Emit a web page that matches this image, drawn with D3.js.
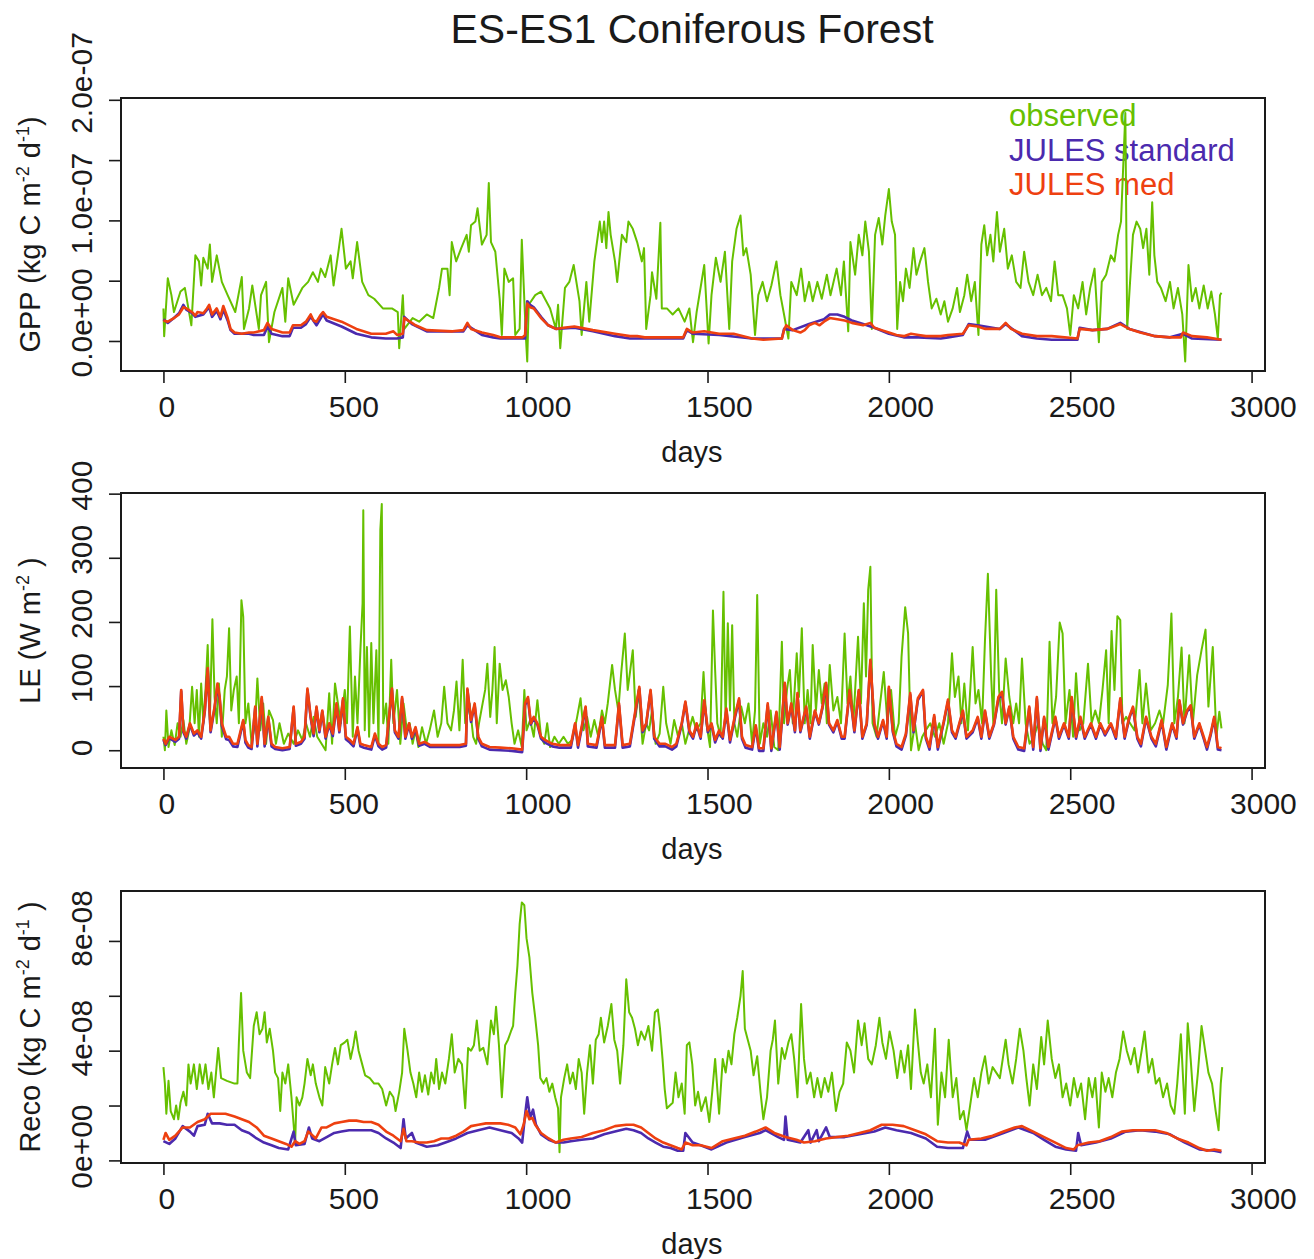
<!DOCTYPE html>
<html>
<head>
<meta charset="utf-8">
<script src="https://cdn.jsdelivr.net/npm/d3@7"></script>
<style>
  body { margin: 0; background: #fff; }
  svg text { font-family: "Liberation Sans", Arial, Helvetica, sans-serif; fill: #1a1a1a; }
</style>
</head>
<body>
<svg id="chart" width="1314" height="1259"></svg>
<script>
"use strict";

var chartTitle = "ES-ES1 Coniferous Forest";
var seriesNames = ["observed", "JULES standard", "JULES med"];
var seriesColors = ["#66c000", "#4b2aae", "#ee4010"];
var dayTicks = [0, 500, 1000, 1500, 2000, 2500, 3000];

// GPP in units of 1e-8 kg C m-2 d-1, as [day, value]
var gppObserved = [[0,2.7],[2,0.4],[12,5.2],[22,3.8],[29,2.4],[47,4.1],[59,4.4],[77,1.3],[88,7.1],[98,6.6],[104,4.6],[110,6.9],[122,6.0],[128,8.0],[134,4.9],[147,7.1],[161,4.9],[177,3.8],[198,2.4],[216,5.3],[222,1.0],[236,2.7],[245,4.6],[263,1.0],[269,3.8],[283,4.9],[291,-0.1],[306,2.4],[328,4.4],[336,1.6],[344,5.2],[359,3.0],[383,4.4],[399,4.9],[412,5.7],[426,4.9],[434,6.0],[446,5.3],[461,7.1],[469,4.6],[481,7.1],[491,9.3],[503,6.0],[516,6.6],[522,5.2],[534,8.2],[548,4.9],[565,3.8],[581,3.5],[605,2.7],[630,2.7],[646,2.4],[650,-0.6],[660,3.8],[664,1.0],[687,1.9],[705,1.6],[726,2.2],[744,1.9],[760,4.4],[768,6.0],[783,6.0],[789,3.8],[795,8.2],[807,6.6],[821,7.7],[836,8.8],[842,7.4],[848,9.6],[860,9.9],[866,11.0],[878,8.0],[891,8.8],[897,13.1],[903,8.2],[915,7.4],[927,3.5],[933,0.5],[940,6.0],[952,4.9],[964,5.2],[970,0.5],[982,1.0],[988,8.4],[999,0.5],[1003,-1.7],[1007,3.0],[1025,3.8],[1041,4.1],[1066,2.7],[1082,1.0],[1088,3.0],[1094,-0.6],[1107,4.4],[1119,4.9],[1131,6.3],[1147,3.3],[1153,0.5],[1166,4.9],[1174,1.6],[1188,6.6],[1203,9.9],[1209,8.2],[1215,9.9],[1221,7.7],[1227,10.7],[1233,8.8],[1245,6.6],[1251,4.9],[1264,8.8],[1276,8.2],[1282,9.9],[1294,9.3],[1306,8.2],[1319,6.6],[1325,7.7],[1331,1.0],[1343,3.8],[1347,5.7],[1359,3.5],[1370,9.8],[1374,2.7],[1388,2.7],[1404,2.2],[1420,2.7],[1437,1.6],[1450,2.7],[1460,-0.1],[1470,2.4],[1491,6.3],[1503,-0.2],[1511,3.8],[1523,6.9],[1536,4.9],[1548,7.4],[1560,1.0],[1568,6.6],[1580,9.3],[1591,10.4],[1599,7.1],[1607,7.7],[1619,5.5],[1631,0.5],[1640,3.8],[1652,4.9],[1664,3.3],[1676,4.6],[1690,6.6],[1701,3.8],[1711,2.2],[1723,0.2],[1731,4.9],[1746,3.8],[1758,6.0],[1768,3.3],[1780,4.9],[1790,3.3],[1803,4.9],[1815,3.5],[1829,5.5],[1839,3.8],[1856,6.0],[1868,3.8],[1876,6.6],[1888,0.8],[1894,8.2],[1907,5.5],[1917,8.8],[1927,7.1],[1935,9.9],[1945,7.4],[1953,1.0],[1962,8.8],[1972,10.2],[1982,8.0],[1990,10.4],[2000,12.6],[2008,9.9],[2017,8.8],[2023,1.0],[2031,4.9],[2039,3.3],[2047,6.0],[2057,4.4],[2068,7.7],[2076,5.5],[2086,6.6],[2098,7.7],[2108,4.9],[2118,2.7],[2131,3.5],[2143,2.2],[2153,3.3],[2163,1.6],[2176,2.7],[2188,4.4],[2196,2.4],[2208,3.8],[2216,5.5],[2227,3.3],[2237,4.9],[2247,0.5],[2255,8.0],[2263,9.6],[2271,7.1],[2280,8.8],[2288,6.6],[2298,10.7],[2306,7.4],[2318,9.3],[2328,6.0],[2339,7.1],[2351,4.9],[2363,4.4],[2373,7.4],[2385,4.9],[2398,3.8],[2410,5.5],[2422,3.8],[2434,4.4],[2447,3.3],[2457,6.6],[2467,3.8],[2479,3.8],[2491,2.7],[2500,0.5],[2510,3.8],[2522,2.7],[2534,4.9],[2544,2.2],[2555,4.4],[2567,6.0],[2579,-0.1],[2587,4.9],[2599,5.5],[2612,7.1],[2622,6.6],[2632,8.8],[2640,9.9],[2652,18.9],[2657,1.0],[2665,4.9],[2673,8.8],[2683,9.9],[2693,9.3],[2701,7.7],[2710,9.3],[2718,5.5],[2726,11.5],[2732,7.1],[2740,4.9],[2750,4.4],[2763,3.3],[2775,4.9],[2785,2.7],[2797,4.4],[2809,2.2],[2817,-1.7],[2826,6.3],[2836,3.3],[2846,4.4],[2856,2.7],[2868,4.6],[2879,2.7],[2889,4.1],[2899,2.2],[2907,0.2],[2913,3.8],[2917,4.0]];
var gppStandard = [[0,1.8],[12,1.5],[29,1.9],[43,2.3],[55,3.0],[63,2.6],[79,2.3],[88,2.0],[110,2.2],[126,2.8],[134,2.0],[147,2.5],[157,1.8],[165,2.6],[177,1.7],[185,0.9],[196,0.6],[236,0.6],[249,0.5],[277,0.5],[287,1.2],[298,0.6],[328,0.4],[348,0.4],[357,1.1],[379,1.1],[393,1.4],[406,2.0],[422,1.3],[440,2.2],[450,1.7],[491,1.2],[532,0.6],[573,0.3],[613,0.2],[644,0.2],[660,0.3],[664,2.0],[685,1.4],[726,0.8],[827,0.8],[838,1.3],[878,0.5],[909,0.3],[929,0.2],[997,0.2],[1003,3.3],[1011,3.0],[1021,2.8],[1041,2.0],[1061,1.3],[1082,1.0],[1133,1.1],[1184,0.8],[1245,0.4],[1286,0.2],[1433,0.2],[1443,0.9],[1459,0.6],[1532,0.5],[1623,0.2],[1705,0.2],[1711,1.0],[1735,0.9],[1780,1.4],[1821,1.8],[1837,2.2],[1858,2.2],[1878,2.0],[1898,1.7],[1929,1.4],[1960,1.1],[2000,0.6],[2041,0.3],[2082,0.3],[2143,0.2],[2163,0.3],[2204,0.5],[2220,1.4],[2245,1.3],[2306,1.0],[2322,1.4],[2367,0.4],[2408,0.2],[2449,0.1],[2520,0.1],[2526,1.1],[2561,0.9],[2602,1.0],[2638,1.5],[2663,1.0],[2734,0.4],[2775,0.3],[2811,0.6],[2836,0.2],[2917,0.1]];
var gppMed = [[0,1.7],[12,1.6],[29,1.9],[43,2.2],[55,2.8],[63,2.7],[79,2.4],[88,2.1],[94,2.4],[110,2.3],[120,2.7],[126,3.0],[134,2.2],[147,2.7],[157,2.0],[165,2.9],[177,1.9],[185,1.0],[196,0.7],[216,0.6],[236,0.7],[249,0.7],[277,0.9],[287,1.5],[298,1.0],[328,0.7],[348,0.7],[357,1.3],[379,1.3],[393,1.6],[406,2.2],[414,1.7],[422,1.6],[432,2.1],[440,2.4],[450,2.0],[491,1.6],[532,1.0],[573,0.6],[613,0.6],[634,0.8],[644,0.5],[660,0.6],[664,1.9],[685,1.5],[695,1.3],[726,0.9],[797,0.8],[827,0.9],[838,1.5],[848,1.0],[878,0.7],[909,0.5],[929,0.3],[990,0.3],[997,0.5],[1003,3.1],[1011,2.8],[1021,2.7],[1041,1.9],[1061,1.3],[1082,1.0],[1103,1.1],[1133,1.2],[1184,0.9],[1245,0.6],[1286,0.4],[1306,0.4],[1327,0.3],[1408,0.3],[1433,0.3],[1443,1.0],[1459,0.7],[1491,0.8],[1532,0.6],[1572,0.6],[1623,0.2],[1654,0.1],[1705,0.2],[1711,0.9],[1717,1.3],[1735,0.9],[1756,0.7],[1768,0.9],[1780,1.3],[1796,1.5],[1809,1.3],[1821,1.6],[1837,1.9],[1858,1.8],[1878,1.7],[1898,1.5],[1929,1.3],[1949,1.5],[1960,1.1],[1980,0.9],[2000,0.7],[2021,0.5],[2041,0.4],[2061,0.6],[2082,0.5],[2102,0.4],[2143,0.4],[2163,0.5],[2204,0.6],[2220,1.3],[2245,1.2],[2266,1.0],[2306,1.0],[2322,1.5],[2337,1.0],[2367,0.6],[2408,0.4],[2449,0.4],[2520,0.2],[2526,1.0],[2561,0.9],[2602,1.0],[2638,1.4],[2663,1.0],[2693,0.7],[2734,0.4],[2775,0.3],[2805,0.3],[2811,0.7],[2836,0.4],[2877,0.3],[2917,0.1]];
var gppTicks = [0, 5, 10, 15, 20];
var gppTickLabels = ["0.0e+00", "", "1.0e-07", "", "2.0e-07"];

// LE, W m-2, as [day, value]
var leObserved = [[0,21],[4,0],[8,62],[14,5],[22,31],[31,8],[39,42],[47,21],[55,47],[63,10],[71,31],[79,99],[86,42],[92,94],[98,21],[104,104],[110,42],[116,94],[122,164],[128,47],[135,204],[141,83],[147,42],[153,104],[161,21],[169,94],[175,115],[181,190],[187,62],[194,94],[202,115],[208,42],[215,234],[220,208],[226,42],[234,73],[243,10],[253,42],[259,112],[267,31],[275,73],[283,10],[291,62],[302,47],[310,10],[320,42],[332,10],[344,26],[359,10],[371,31],[383,16],[393,42],[404,21],[414,52],[424,21],[436,10],[447,0],[457,89],[465,10],[473,104],[481,73],[489,42],[500,94],[506,42],[514,193],[522,21],[528,115],[535,42],[543,156],[549,229],[551,374],[555,31],[561,161],[567,21],[573,167],[579,42],[587,156],[593,10],[598,344],[602,384],[606,42],[614,73],[620,10],[628,141],[634,42],[644,94],[653,10],[662,73],[671,31],[679,42],[687,10],[695,31],[703,5],[713,36],[724,10],[734,31],[746,62],[756,21],[766,42],[774,99],[783,42],[793,31],[801,62],[808,107],[816,31],[825,141],[832,42],[844,73],[854,21],[862,10],[870,42],[880,73],[887,94],[893,135],[901,52],[907,94],[913,161],[919,42],[927,135],[935,94],[944,109],[952,83],[960,42],[968,10],[978,31],[988,5],[995,94],[1001,31],[1011,47],[1021,21],[1031,78],[1041,21],[1050,10],[1058,42],[1066,5],[1078,21],[1090,10],[1103,21],[1115,10],[1127,16],[1139,47],[1150,81],[1158,31],[1168,52],[1178,21],[1188,47],[1199,21],[1209,62],[1217,42],[1225,73],[1237,133],[1245,94],[1254,62],[1262,120],[1272,182],[1280,94],[1287,125],[1294,156],[1302,52],[1310,94],[1321,10],[1331,42],[1339,31],[1347,62],[1357,10],[1368,26],[1378,99],[1386,42],[1398,10],[1408,47],[1419,21],[1429,42],[1439,10],[1449,31],[1459,52],[1469,31],[1481,42],[1489,122],[1497,42],[1507,5],[1515,218],[1521,125],[1527,42],[1536,21],[1544,247],[1550,42],[1556,198],[1562,62],[1568,195],[1574,42],[1582,21],[1593,68],[1603,42],[1613,73],[1623,10],[1631,62],[1637,242],[1644,10],[1654,42],[1664,21],[1674,62],[1684,5],[1695,0],[1705,169],[1711,42],[1719,94],[1727,125],[1735,42],[1746,151],[1752,83],[1760,190],[1768,42],[1776,94],[1784,42],[1790,164],[1799,62],[1807,125],[1815,73],[1823,104],[1829,42],[1837,133],[1847,62],[1858,83],[1868,42],[1878,182],[1886,73],[1894,115],[1902,42],[1915,177],[1923,73],[1931,229],[1937,115],[1943,250],[1949,286],[1955,42],[1966,21],[1976,73],[1986,122],[1996,42],[2006,94],[2017,21],[2027,42],[2035,146],[2045,223],[2053,182],[2061,0],[2072,42],[2082,0],[2092,21],[2102,31],[2114,42],[2127,21],[2139,42],[2151,10],[2163,42],[2174,151],[2182,83],[2192,115],[2200,42],[2208,104],[2218,31],[2231,161],[2239,73],[2247,94],[2257,42],[2265,172],[2273,275],[2282,115],[2288,42],[2296,250],[2304,94],[2312,42],[2322,143],[2332,83],[2343,42],[2351,73],[2359,42],[2367,143],[2377,42],[2388,10],[2400,21],[2412,42],[2424,10],[2434,0],[2443,169],[2451,42],[2461,83],[2471,199],[2479,182],[2487,42],[2498,94],[2508,21],[2516,120],[2526,31],[2536,42],[2549,135],[2559,42],[2569,62],[2579,42],[2589,94],[2599,156],[2606,42],[2614,186],[2622,94],[2630,209],[2638,203],[2644,42],[2654,52],[2665,42],[2677,31],[2691,125],[2699,42],[2709,104],[2722,31],[2734,42],[2746,62],[2756,42],[2769,102],[2779,213],[2787,42],[2797,83],[2807,160],[2815,42],[2828,148],[2838,42],[2850,117],[2862,156],[2873,188],[2881,68],[2893,161],[2903,21],[2911,60],[2917,34]];
var leStandard = [[0,16],[6,8],[16,19],[33,13],[43,18],[49,92],[55,28],[63,18],[73,40],[84,23],[94,28],[104,18],[114,60],[122,126],[130,28],[141,65],[149,100],[155,80],[161,38],[173,17],[181,16],[192,6],[204,5],[220,45],[226,12],[234,4],[243,2],[253,66],[259,6],[271,80],[279,6],[289,50],[298,6],[308,2],[328,0],[348,2],[359,66],[365,7],[379,10],[389,18],[397,94],[406,50],[414,22],[422,66],[430,28],[438,60],[447,18],[457,40],[467,22],[477,70],[485,28],[495,78],[503,17],[514,12],[524,6],[535,34],[543,6],[553,4],[573,1],[583,23],[593,6],[603,1],[614,4],[630,94],[638,28],[648,18],[658,80],[667,18],[677,40],[685,18],[695,33],[705,7],[720,10],[736,5],[756,5],[777,5],[797,5],[817,5],[834,7],[838,94],[848,44],[858,70],[868,18],[878,6],[899,1],[929,0],[960,-1],[989,-3],[997,70],[1005,80],[1013,40],[1021,50],[1031,40],[1041,18],[1052,12],[1072,6],[1092,4],[1123,4],[1135,40],[1143,4],[1164,66],[1170,6],[1194,4],[1209,50],[1217,4],[1245,4],[1256,70],[1266,4],[1286,6],[1312,96],[1321,28],[1331,40],[1343,92],[1353,18],[1368,6],[1384,6],[1402,1],[1414,6],[1429,40],[1439,74],[1450,28],[1460,18],[1470,40],[1481,18],[1491,76],[1501,28],[1511,40],[1521,12],[1532,28],[1542,18],[1552,62],[1562,12],[1576,52],[1587,78],[1595,18],[1605,4],[1623,1],[1633,36],[1642,-1],[1654,-1],[1666,70],[1676,-1],[1690,58],[1699,1],[1713,102],[1721,40],[1731,70],[1741,28],[1748,86],[1756,28],[1772,66],[1782,18],[1796,60],[1807,40],[1817,66],[1827,102],[1835,40],[1847,28],[1858,45],[1870,18],[1878,18],[1892,92],[1905,28],[1917,92],[1927,18],[1939,40],[1949,138],[1960,40],[1970,18],[1984,45],[1994,18],[2000,96],[2011,28],[2021,6],[2035,1],[2047,23],[2059,86],[2068,28],[2080,78],[2094,92],[2102,18],[2112,1],[2125,52],[2135,1],[2151,42],[2163,76],[2174,28],[2184,18],[2204,60],[2214,18],[2231,28],[2245,50],[2255,18],[2265,60],[2277,18],[2290,40],[2302,80],[2312,88],[2322,40],[2332,66],[2343,18],[2357,1],[2373,-1],[2387,66],[2398,1],[2408,80],[2418,-1],[2428,50],[2440,1],[2459,50],[2469,18],[2483,40],[2496,18],[2504,80],[2516,18],[2528,50],[2540,18],[2557,40],[2571,18],[2583,40],[2596,23],[2612,40],[2626,18],[2638,78],[2650,18],[2663,50],[2673,66],[2685,18],[2695,6],[2709,50],[2724,18],[2736,6],[2752,45],[2765,1],[2781,40],[2793,18],[2801,76],[2811,40],[2822,60],[2832,68],[2842,18],[2856,40],[2868,18],[2877,1],[2887,23],[2897,50],[2907,1],[2917,0]];
var leMed = [[0,18],[6,10],[16,21],[33,16],[43,21],[49,94],[55,31],[63,21],[73,42],[84,26],[94,31],[104,21],[114,62],[122,128],[130,31],[141,68],[149,104],[155,83],[161,42],[173,21],[181,21],[192,10],[204,10],[220,47],[226,16],[234,8],[243,5],[253,68],[259,10],[271,83],[279,10],[289,52],[298,10],[308,5],[328,3],[348,5],[359,68],[365,10],[379,13],[389,21],[397,96],[406,52],[414,26],[422,68],[430,31],[438,62],[447,21],[457,42],[467,26],[477,73],[485,31],[495,81],[503,21],[514,16],[524,10],[535,36],[543,10],[553,8],[573,5],[583,26],[593,10],[603,5],[614,8],[630,96],[638,31],[648,21],[658,83],[667,21],[677,42],[685,21],[695,36],[705,10],[720,13],[736,8],[756,8],[777,8],[797,8],[817,8],[834,10],[838,96],[848,47],[858,73],[868,21],[878,10],[899,5],[929,4],[960,3],[989,1],[997,73],[1005,83],[1013,42],[1021,52],[1031,42],[1041,21],[1052,16],[1072,10],[1092,8],[1123,8],[1135,42],[1143,8],[1164,68],[1170,10],[1194,8],[1209,52],[1217,8],[1245,8],[1256,73],[1266,8],[1286,10],[1312,99],[1321,31],[1331,42],[1343,94],[1353,21],[1368,10],[1384,10],[1402,5],[1414,10],[1429,42],[1439,76],[1450,31],[1460,21],[1470,42],[1481,21],[1491,78],[1501,31],[1511,42],[1521,16],[1532,31],[1542,21],[1552,65],[1562,16],[1576,55],[1587,81],[1595,21],[1605,8],[1623,5],[1633,39],[1642,3],[1654,3],[1666,73],[1676,3],[1690,60],[1699,5],[1713,105],[1721,42],[1731,73],[1741,31],[1748,89],[1756,31],[1772,68],[1782,21],[1796,62],[1807,42],[1817,68],[1827,105],[1835,42],[1847,31],[1858,47],[1870,21],[1878,21],[1892,94],[1905,31],[1917,94],[1927,21],[1939,42],[1949,141],[1960,42],[1970,21],[1984,47],[1994,21],[2000,99],[2011,31],[2021,10],[2035,5],[2047,26],[2059,89],[2068,31],[2080,81],[2094,94],[2102,21],[2112,5],[2125,55],[2135,5],[2151,44],[2163,79],[2174,31],[2184,21],[2204,62],[2214,21],[2231,31],[2245,52],[2255,21],[2265,62],[2277,21],[2290,42],[2302,83],[2312,91],[2322,42],[2332,68],[2343,21],[2357,5],[2373,3],[2387,68],[2398,5],[2408,83],[2418,3],[2428,52],[2440,5],[2459,52],[2469,21],[2483,42],[2496,21],[2504,83],[2516,21],[2528,52],[2540,21],[2557,42],[2571,21],[2583,42],[2596,26],[2612,42],[2626,21],[2638,81],[2650,21],[2663,52],[2673,68],[2685,21],[2695,10],[2709,52],[2724,21],[2736,10],[2752,47],[2765,5],[2781,42],[2793,21],[2801,78],[2811,42],[2822,62],[2832,70],[2842,21],[2856,42],[2868,21],[2877,5],[2887,26],[2897,52],[2907,5],[2917,3]];
var leTicks = [0, 100, 200, 300, 400];
var leTickLabels = ["0", "100", "200", "300", "400"];

// Reco, units of 1e-8 kg C m-2 d-1, as [day, value]
var recoObserved = [[0,3.4],[4,2.8],[8,1.7],[14,2.9],[20,1.8],[29,1.5],[35,2.0],[41,1.5],[47,2.1],[55,2.5],[63,2.0],[69,3.5],[75,2.8],[84,3.5],[92,2.6],[100,3.5],[108,2.8],[116,3.5],[124,2.6],[132,3.2],[139,2.3],[151,4.1],[159,3.0],[175,2.9],[196,2.8],[204,2.8],[208,4.3],[214,6.1],[220,4.0],[230,3.2],[239,3.0],[249,4.9],[257,5.4],[265,4.6],[273,4.8],[279,5.4],[285,4.3],[293,4.8],[302,4.0],[308,3.2],[316,3.0],[322,1.8],[328,3.2],[336,2.8],[344,3.5],[353,2.3],[359,1.3],[363,0.6],[367,2.3],[375,2.0],[383,2.3],[389,2.8],[397,3.7],[406,3.1],[412,3.5],[420,2.8],[430,2.3],[438,2.0],[446,3.4],[457,2.8],[465,3.5],[473,4.1],[481,3.5],[489,4.2],[500,4.3],[507,4.4],[516,3.7],[524,4.2],[530,4.7],[538,4.0],[548,3.5],[556,3.1],[569,3.0],[581,2.8],[593,2.8],[603,2.6],[614,2.0],[624,2.5],[634,2.3],[640,1.8],[650,2.5],[658,3.2],[664,4.8],[673,4.0],[681,3.2],[689,2.8],[697,2.3],[705,3.2],[713,2.5],[721,3.1],[730,2.4],[738,3.2],[746,2.8],[752,3.7],[760,2.6],[768,3.2],[777,2.8],[787,3.7],[795,4.6],[803,3.2],[813,3.7],[823,3.5],[832,1.9],[840,4.1],[848,4.0],[856,4.2],[864,5.1],[872,4.0],[882,4.1],[893,3.5],[903,5.1],[911,4.6],[917,5.6],[925,4.2],[933,2.3],[942,4.2],[950,4.4],[958,4.7],[964,4.9],[970,6.1],[976,7.1],[982,8.6],[988,9.4],[995,9.3],[1001,8.1],[1009,7.4],[1017,6.1],[1025,5.2],[1033,4.2],[1039,3.0],[1048,2.8],[1056,3.0],[1064,2.5],[1072,2.8],[1080,2.3],[1088,1.9],[1092,0.3],[1096,2.3],[1105,3.0],[1113,3.5],[1121,2.8],[1129,3.2],[1137,2.6],[1145,3.7],[1153,3.2],[1160,1.7],[1168,3.2],[1176,4.2],[1184,2.8],[1192,4.4],[1200,4.6],[1206,5.2],[1215,4.3],[1225,4.9],[1235,5.7],[1243,4.4],[1251,4.0],[1259,2.8],[1268,4.2],[1276,6.6],[1284,5.4],[1292,5.2],[1300,4.8],[1308,4.2],[1317,4.7],[1327,4.4],[1337,4.9],[1347,4.0],[1355,5.4],[1363,5.5],[1369,4.8],[1376,3.7],[1382,2.6],[1388,1.9],[1396,2.0],[1404,2.1],[1412,3.2],[1420,2.3],[1429,2.8],[1437,1.7],[1443,4.2],[1450,4.3],[1458,3.5],[1466,2.0],[1474,2.5],[1483,1.8],[1495,2.3],[1505,1.4],[1513,2.5],[1521,3.7],[1532,1.7],[1542,3.7],[1550,3.2],[1558,4.0],[1566,3.5],[1574,4.6],[1582,5.2],[1591,6.0],[1597,6.9],[1603,4.8],[1611,4.4],[1619,4.0],[1627,3.1],[1637,3.8],[1646,2.5],[1654,1.5],[1664,2.3],[1674,4.0],[1680,4.4],[1686,5.1],[1695,2.8],[1705,4.1],[1713,3.7],[1723,4.3],[1731,4.6],[1739,3.7],[1748,2.3],[1758,5.7],[1766,3.7],[1774,2.8],[1784,3.2],[1794,2.3],[1803,3.0],[1813,2.3],[1823,3.0],[1833,2.5],[1843,3.2],[1854,1.8],[1864,2.5],[1874,2.8],[1884,4.3],[1894,4.0],[1904,3.2],[1915,5.1],[1925,4.2],[1933,5.0],[1943,3.7],[1953,3.5],[1964,4.2],[1974,5.2],[1982,4.3],[1992,3.7],[2002,4.7],[2013,4.0],[2023,3.0],[2033,4.0],[2043,3.2],[2053,4.2],[2061,2.6],[2072,5.5],[2080,4.3],[2088,3.2],[2096,2.8],[2106,3.5],[2116,2.3],[2127,4.8],[2135,1.3],[2145,3.2],[2155,2.3],[2165,4.4],[2176,2.3],[2186,3.0],[2196,1.5],[2206,1.8],[2214,1.1],[2224,2.0],[2235,3.0],[2245,2.3],[2255,3.2],[2265,3.8],[2275,2.8],[2286,3.4],[2296,3.2],[2306,3.0],[2314,3.7],[2322,4.4],[2330,3.5],[2341,2.8],[2351,3.7],[2361,4.8],[2371,4.0],[2379,3.0],[2388,2.0],[2398,3.5],[2408,2.6],[2420,4.5],[2428,3.5],[2438,5.1],[2449,3.7],[2459,3.0],[2469,3.5],[2479,2.3],[2489,2.8],[2500,2.0],[2510,3.0],[2520,2.3],[2530,2.8],[2541,1.5],[2551,3.0],[2561,2.3],[2569,3.0],[2579,1.2],[2587,3.2],[2597,2.5],[2606,3.0],[2616,2.3],[2626,3.2],[2636,3.7],[2646,4.7],[2656,4.0],[2667,3.5],[2677,4.1],[2687,3.2],[2697,4.0],[2705,4.7],[2716,3.2],[2726,3.7],[2736,2.8],[2746,3.0],[2756,2.3],[2767,2.8],[2777,2.0],[2787,1.7],[2795,2.8],[2805,4.6],[2816,1.7],[2824,5.0],[2832,3.7],[2842,1.8],[2852,3.2],[2862,4.9],[2872,4.0],[2881,3.2],[2891,2.8],[2901,1.8],[2909,1.1],[2915,2.8],[2919,3.4]];
var recoStandard = [[0,0.7],[16,0.6],[33,0.8],[53,1.25],[73,1.05],[84,0.9],[94,1.25],[114,1.3],[122,1.7],[134,1.35],[155,1.35],[175,1.3],[196,1.3],[216,1.1],[236,1.0],[257,0.8],[277,0.65],[298,0.55],[318,0.45],[344,0.4],[359,1.05],[365,0.55],[389,0.6],[401,1.2],[410,0.8],[430,0.7],[450,0.85],[471,1.0],[491,1.05],[512,1.1],[532,1.1],[552,1.1],[573,1.1],[593,1.0],[614,0.8],[634,0.65],[654,0.45],[662,1.5],[668,0.8],[685,1.0],[695,0.65],[726,0.5],[756,0.55],[787,0.7],[807,0.8],[838,1.0],[868,1.1],[899,1.2],[929,1.1],[960,1.0],[979,0.8],[989,0.65],[997,1.65],[1003,2.3],[1011,1.55],[1019,1.85],[1027,1.3],[1041,0.95],[1062,0.75],[1082,0.65],[1103,0.65],[1123,0.7],[1153,0.75],[1184,0.8],[1215,0.95],[1245,1.05],[1276,1.15],[1296,1.1],[1317,1.0],[1337,0.8],[1357,0.65],[1378,0.5],[1398,0.45],[1418,0.35],[1433,0.35],[1439,1.0],[1459,0.65],[1481,0.55],[1511,0.4],[1552,0.65],[1603,0.85],[1644,1.0],[1660,1.1],[1695,0.85],[1711,0.75],[1715,1.6],[1721,0.75],[1756,0.65],[1778,1.1],[1784,0.65],[1801,1.1],[1807,0.7],[1827,1.2],[1837,0.85],[1878,0.85],[1919,0.95],[1960,1.05],[1990,1.2],[2021,1.1],[2061,1.0],[2102,0.8],[2133,0.5],[2163,0.45],[2204,0.45],[2216,1.05],[2224,0.75],[2265,0.75],[2316,1.0],[2357,1.2],[2398,1.0],[2428,0.75],[2459,0.5],[2489,0.4],[2516,0.35],[2522,1.0],[2530,0.55],[2571,0.65],[2612,0.8],[2653,1.05],[2693,1.1],[2734,1.05],[2775,0.95],[2816,0.65],[2856,0.4],[2897,0.35],[2917,0.3]];
var recoMed = [[0,0.75],[6,1.0],[16,0.75],[33,0.9],[53,1.2],[73,1.2],[94,1.4],[114,1.5],[130,1.7],[151,1.7],[171,1.7],[196,1.6],[216,1.5],[236,1.4],[257,1.2],[277,0.9],[298,0.8],[318,0.7],[338,0.6],[353,0.5],[363,0.7],[375,0.6],[389,0.7],[399,1.05],[408,0.95],[420,0.8],[436,1.2],[450,1.2],[471,1.35],[491,1.4],[512,1.45],[532,1.45],[552,1.4],[573,1.4],[593,1.3],[614,1.05],[634,0.9],[654,0.7],[662,1.15],[670,0.7],[685,0.7],[705,0.65],[726,0.65],[746,0.7],[766,0.8],[787,0.8],[807,0.9],[827,1.05],[848,1.25],[868,1.3],[889,1.35],[909,1.35],[929,1.35],[950,1.3],[970,1.2],[984,0.95],[993,1.3],[1001,1.8],[1009,1.5],[1017,1.55],[1025,1.3],[1041,1.0],[1062,0.8],[1082,0.65],[1103,0.75],[1123,0.8],[1153,0.85],[1184,1.0],[1215,1.1],[1245,1.25],[1276,1.3],[1296,1.3],[1317,1.2],[1337,1.0],[1357,0.8],[1378,0.65],[1398,0.55],[1418,0.45],[1429,0.4],[1439,0.65],[1459,0.55],[1481,0.55],[1511,0.45],[1542,0.7],[1572,0.8],[1603,0.9],[1633,1.05],[1660,1.2],[1684,1.0],[1715,0.85],[1745,0.75],[1766,0.65],[1796,0.7],[1827,0.8],[1858,0.85],[1888,0.9],[1919,1.0],[1949,1.1],[1980,1.3],[2010,1.3],[2041,1.25],[2072,1.1],[2102,0.95],[2133,0.7],[2163,0.65],[2194,0.65],[2214,0.55],[2220,0.75],[2255,0.8],[2286,0.9],[2316,1.05],[2347,1.2],[2367,1.25],[2398,1.05],[2428,0.85],[2459,0.65],[2489,0.45],[2510,0.4],[2520,0.55],[2551,0.65],[2581,0.7],[2612,0.85],[2642,1.05],[2673,1.1],[2703,1.1],[2734,1.1],[2765,1.0],[2795,0.8],[2826,0.65],[2856,0.45],[2877,0.35],[2897,0.4],[2917,0.35]];
var recoTicks = [0, 2, 4, 6, 8];
var recoTickLabels = ["0e+00", "", "4e-08", "", "8e-08"];

// layout
var boxLeft = 121, boxRight = 1265;
var panels = [
  { top: 98,  bottom: 371,  domain: [-2.49, 20.15], ticks: gppTicks, labels: gppTickLabels,
    series: [gppObserved, gppStandard, gppMed], ylab: ["GPP (kg C m", "-2", " d", "-1", ")"], legend: true },
  { top: 493, bottom: 768,  domain: [-27.7, 401],  ticks: leTicks, labels: leTickLabels,
    series: [leObserved, leStandard, leMed], ylab: ["LE (W m", "-2", " )"] },
  { top: 891, bottom: 1163, domain: [-0.095, 9.82], ticks: recoTicks, labels: recoTickLabels,
    series: [recoObserved, recoStandard, recoMed], ylab: ["Reco (kg C m", "-2", " d", "-1", " )"] }
];

var svg = d3.select("#chart");

svg.append("text")
  .attr("x", 692).attr("y", 43)
  .attr("text-anchor", "middle")
  .attr("font-size", "41px")
  .text(chartTitle);

var x = d3.scaleLinear().domain([-117, 3037]).range([boxLeft, boxRight]);

// R places centred labels slightly off; shift by a share of the text length
function nudge(sel) {
  sel.each(function() {
    var L = this.getComputedTextLength();
    d3.select(this).attr("dx", (0.17 * L).toFixed(1));
  });
}

panels.forEach(function(p) {
  var y = d3.scaleLinear().domain(p.domain).range([p.bottom, p.top]);
  var g = svg.append("g");

  // x axis
  var xAxis = g.append("g")
    .attr("transform", "translate(0," + p.bottom + ")")
    .call(d3.axisBottom(x).tickValues(dayTicks).tickSize(12).tickFormat(d3.format("d")));
  xAxis.select(".domain").remove();
  xAxis.selectAll("line").attr("stroke", "#1a1a1a").attr("stroke-width", 1.6);
  xAxis.selectAll("text")
    .attr("y", 46).attr("dy", null)
    .attr("font-size", "30px").attr("font-family", null)
    .call(nudge);

  g.append("text")
    .attr("x", 692).attr("y", p.bottom + 91)
    .attr("text-anchor", "middle")
    .attr("font-size", "29px")
    .text("days");

  // y axis
  var yAxis = g.append("g")
    .attr("transform", "translate(" + boxLeft + ",0)")
    .call(d3.axisLeft(y).tickValues(p.ticks).tickSize(12)
      .tickFormat(function(d, i) { return p.labels[i]; }));
  yAxis.select(".domain").remove();
  yAxis.selectAll("line").attr("stroke", "#1a1a1a").attr("stroke-width", 1.6);
  yAxis.selectAll("text")
    .attr("x", null).attr("dy", null)
    .attr("text-anchor", "middle")
    .attr("transform", "translate(-29,0) rotate(-90)")
    .attr("font-size", "30px").attr("font-family", null)
    .call(nudge);

  var ylab = g.append("text")
    .attr("transform", "translate(40," + ((p.top + p.bottom) / 2) + ") rotate(-90)")
    .attr("text-anchor", "middle")
    .attr("font-size", "29px");
  p.ylab.forEach(function(part, i) {
    var sup = i % 2 === 1;
    ylab.append("tspan")
      .attr("font-size", sup ? "18px" : null)
      .attr("dy", sup ? -11 : (i > 0 ? 11 : 0))
      .text(part);
  });

  if (p.legend) {
    seriesNames.forEach(function(name, i) {
      g.append("text")
        .attr("x", 1009).attr("y", 126 + i * 34.5)
        .attr("font-size", "31px")
        .style("fill", seriesColors[i])
        .text(name);
    });
  }

  var line = d3.line()
    .x(function(d) { return x(d[0]); })
    .y(function(d) { return y(d[1]); });

  p.series.forEach(function(s, i) {
    g.append("path")
      .datum(s)
      .attr("d", line)
      .attr("fill", "none")
      .attr("stroke", seriesColors[i])
      .attr("stroke-width", i === 0 ? 2 : 2.6)
      .attr("stroke-linejoin", "round");
  });

  g.append("rect")
    .attr("x", boxLeft).attr("y", p.top)
    .attr("width", boxRight - boxLeft).attr("height", p.bottom - p.top)
    .attr("fill", "none")
    .attr("stroke", "#1a1a1a")
    .attr("stroke-width", 2);
});
</script>
</body>
</html>
